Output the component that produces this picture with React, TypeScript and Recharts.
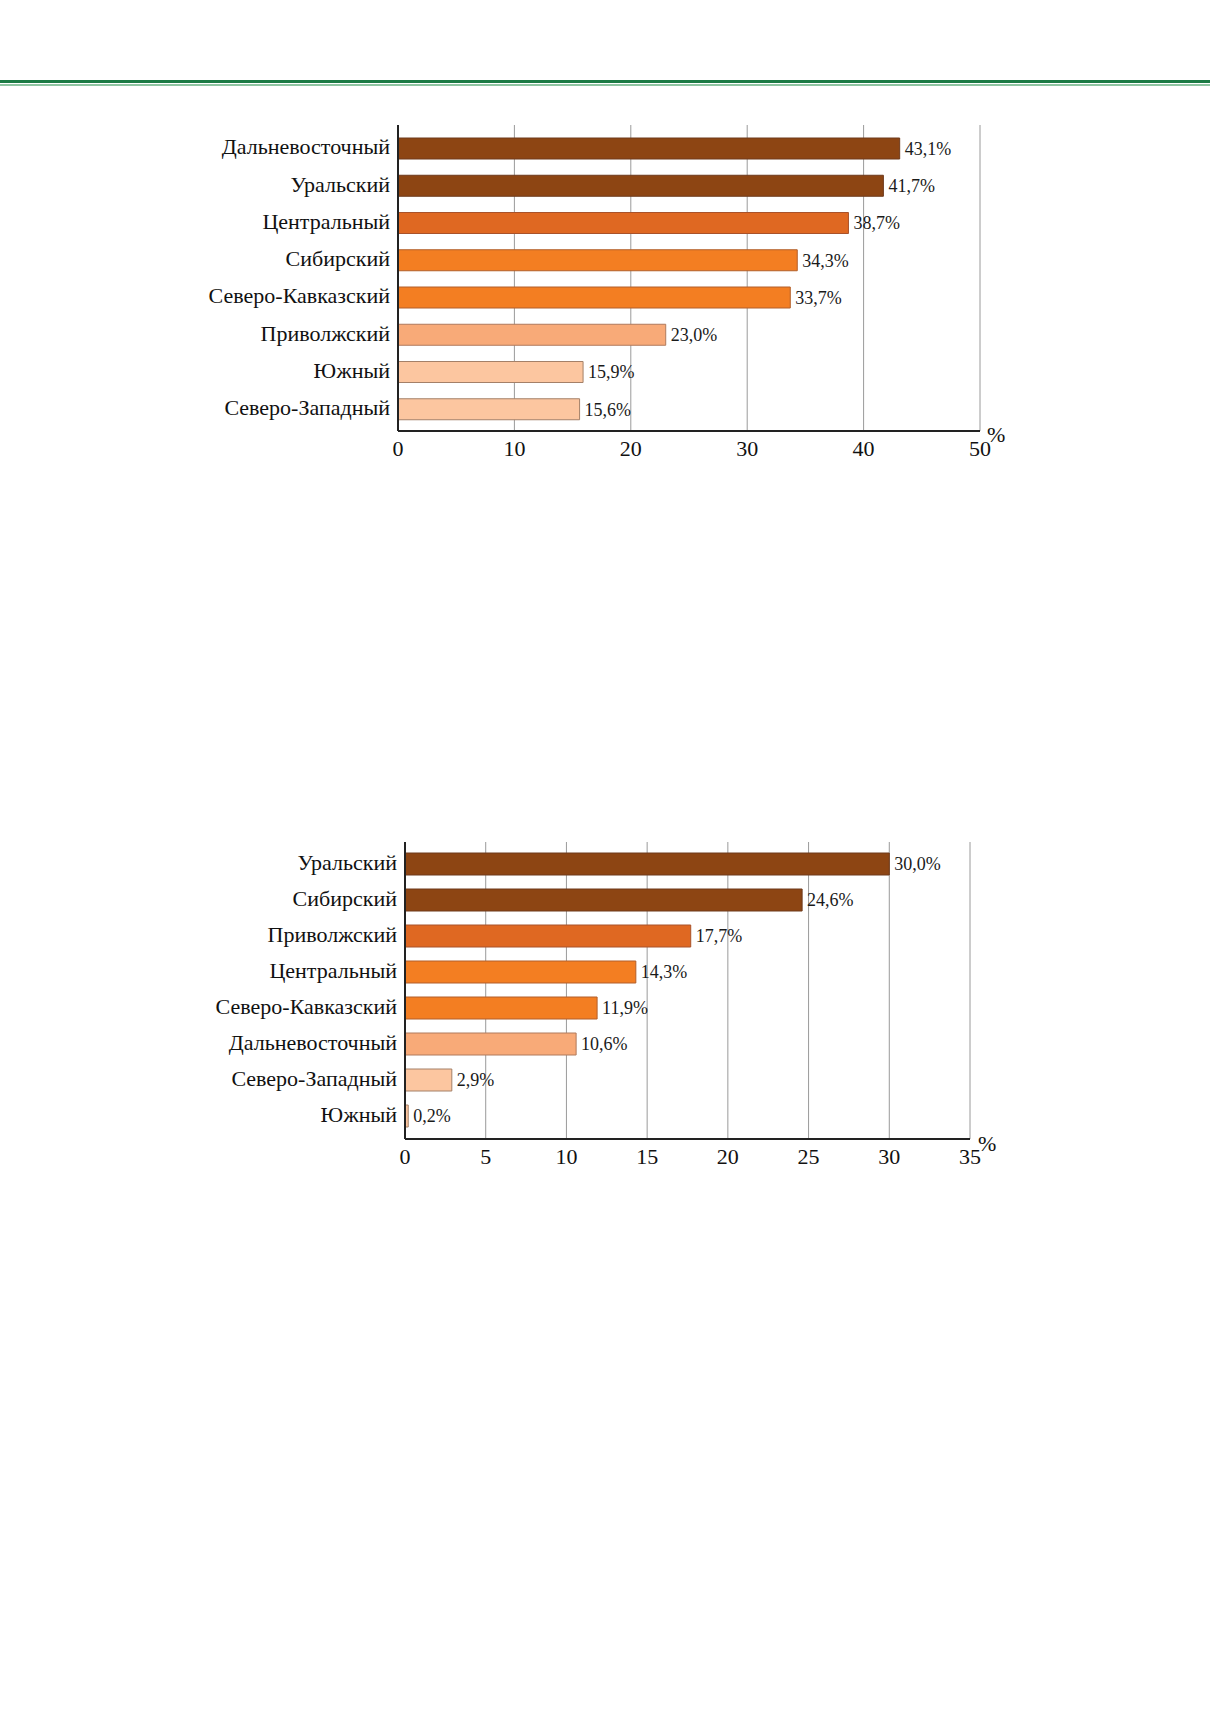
import React from 'react';
import { BarChart, Bar, XAxis, YAxis, CartesianGrid, Cell, LabelList } from 'recharts';

const regions1 = ['Дальневосточный', 'Уральский', 'Центральный', 'Сибирский', 'Северо-Кавказский', 'Приволжский', 'Южный', 'Северо-Западный'];
const values1 = [43.1, 41.7, 38.7, 34.3, 33.7, 23.0, 15.9, 15.6];
const tiers1 = [0, 0, 1, 2, 2, 3, 4, 4];
const ticks1 = [0, 10, 20, 30, 40, 50];

const regions2 = ['Уральский', 'Сибирский', 'Приволжский', 'Центральный', 'Северо-Кавказский', 'Дальневосточный', 'Северо-Западный', 'Южный'];
const values2 = [30.0, 24.6, 17.7, 14.3, 11.9, 10.6, 2.9, 0.2];
const tiers2 = [0, 0, 1, 2, 2, 3, 4, 4];
const ticks2 = [0, 5, 10, 15, 20, 25, 30, 35];

const fills = ['#8d4513', '#df6822', '#f37e22', '#f8aa78', '#fcc6a0'];
const strokes = ['#6e3a1c', '#a9522a', '#b25f2a', '#b07a5c', '#a48068'];

const FONT = '"Liberation Serif", "Times New Roman", serif';

const fmt = (v: any) => Number(v).toFixed(1).replace('.', ',') + '%';

type ChartProps = {
  regions: string[];
  values: number[];
  tiers: number[];
  ticks: number[];
  top: number;
  height: number;
  marginTop: number;
  marginBottom: number;
  yWidth: number;
  marginRight: number;
  barSize: number;
  padTop: number;
  padBottom: number;
};

function RegionChart(p: ChartProps) {
  const data = p.regions.map((r, i) => ({ region: r, value: p.values[i], tier: p.tiers[i] }));
  const max = p.ticks[p.ticks.length - 1];
  return (
    <div style={{ position: 'absolute', left: 0, top: p.top, width: 1210, height: p.height }}>
      <BarChart
        width={1210}
        height={p.height}
        data={data}
        layout="vertical"
        margin={{ top: p.marginTop, right: p.marginRight, left: 0, bottom: p.marginBottom }}
      >
        <CartesianGrid horizontal={false} vertical={true} stroke="#9a9a9a" strokeWidth={1} verticalValues={p.ticks} />
        <XAxis
          type="number"
          domain={[0, max]}
          ticks={p.ticks}
          interval={0}
          tickLine={false}
          axisLine={{ stroke: '#222', strokeWidth: 2 }}
          tick={{ fill: '#111', fontSize: 22, fontFamily: FONT }}
          tickMargin={3}
          height={40}
        />
        <YAxis
          type="category"
          dataKey="region"
          width={p.yWidth}
          tickLine={false}
          axisLine={{ stroke: '#222', strokeWidth: 2 }}
          tick={{ fill: '#111', fontSize: 22, fontFamily: FONT, dy: -2 }}
          interval={0}
          padding={{ top: p.padTop, bottom: p.padBottom }}
        />
        <Bar dataKey="value" barSize={p.barSize} isAnimationActive={false}>
          {data.map((d, i) => (
            <Cell key={i} fill={fills[d.tier]} stroke={strokes[d.tier]} strokeWidth={1} />
          ))}
          <LabelList
            dataKey="value"
            position="right"
            offset={5}
            formatter={fmt}
            style={{ fill: '#1a1a1a', fontSize: 18, fontFamily: FONT }}
          />
        </Bar>
      </BarChart>
    </div>
  );
}

export default function App() {
  return (
    <div style={{ position: 'absolute', left: 0, top: 0, width: 1210, height: 1712, background: '#fff', fontFamily: FONT }}>
      <div style={{ position: 'absolute', left: 0, top: 80, width: 1210, height: 3, background: '#1b7a44' }} />
      <div style={{ position: 'absolute', left: 0, top: 84, width: 1210, height: 2, background: '#8fc4a2' }} />

      <RegionChart
        regions={regions1}
        values={values1}
        tiers={tiers1}
        ticks={ticks1}
        top={0}
        height={500}
        marginTop={125}
        marginBottom={500 - 431 - 40}
        yWidth={398}
        marginRight={1210 - 980}
        barSize={21}
        padTop={5}
        padBottom={3}
      />
      <div style={{ position: 'absolute', left: 987, top: 424, fontSize: 22, lineHeight: '22px', color: '#111' }}>%</div>

      <RegionChart
        regions={regions2}
        values={values2}
        tiers={tiers2}
        ticks={ticks2}
        top={800}
        height={400}
        marginTop={42}
        marginBottom={400 - 339 - 40}
        yWidth={405}
        marginRight={1210 - 970}
        barSize={22}
        padTop={4}
        padBottom={5}
      />
      <div style={{ position: 'absolute', left: 978, top: 1133, fontSize: 22, lineHeight: '22px', color: '#111' }}>%</div>
    </div>
  );
}
